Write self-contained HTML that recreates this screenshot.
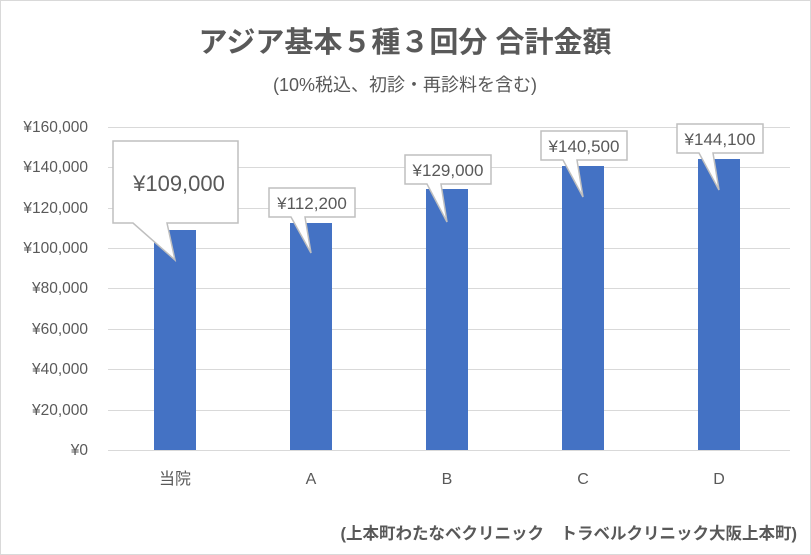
<!DOCTYPE html>
<html><head><meta charset="utf-8"><style>body{margin:0}svg{display:block}</style></head><body>
<svg width="811" height="555" xmlns="http://www.w3.org/2000/svg" font-family="Liberation Sans, Noto Sans CJK JP, sans-serif">
<rect x="0.5" y="0.5" width="810" height="554" fill="#fff" stroke="#d9d9d9"/>
<text x="405" y="52" text-anchor="middle" font-size="29" font-weight="bold" fill="#595959">アジア基本５種３回分 合計金額</text>
<text x="405" y="91" text-anchor="middle" font-size="18" fill="#595959">(10%税込、初診・再診料を含む)</text>
<g stroke="#d9d9d9" stroke-width="1">
<line x1="108" x2="790" y1="127.5" y2="127.5"/><line x1="108" x2="790" y1="167.5" y2="167.5"/>
<line x1="108" x2="790" y1="208.5" y2="208.5"/><line x1="108" x2="790" y1="248.5" y2="248.5"/>
<line x1="108" x2="790" y1="288.5" y2="288.5"/><line x1="108" x2="790" y1="329.5" y2="329.5"/>
<line x1="108" x2="790" y1="369.5" y2="369.5"/><line x1="108" x2="790" y1="410.5" y2="410.5"/>
<line x1="108" x2="790" y1="450.5" y2="450.5"/>
</g>
<g font-size="15.5" fill="#595959" text-anchor="end">
<text x="88" y="132">¥160,000</text><text x="88" y="172">¥140,000</text><text x="88" y="213">¥120,000</text>
<text x="88" y="253">¥100,000</text><text x="88" y="293">¥80,000</text><text x="88" y="334">¥60,000</text>
<text x="88" y="374">¥40,000</text><text x="88" y="415">¥20,000</text><text x="88" y="455">¥0</text>
</g>
<g fill="#4472c4">
<rect x="154" y="230" width="42" height="220"/><rect x="290" y="223" width="42" height="227"/>
<rect x="426" y="189" width="42" height="261"/><rect x="562" y="166" width="42" height="284"/>
<rect x="698" y="159" width="42" height="291"/>
</g>
<g font-size="16" fill="#595959" text-anchor="middle">
<text x="175" y="484">当院</text><text x="311" y="484">A</text><text x="447" y="484">B</text><text x="583" y="484">C</text><text x="719" y="484">D</text>
</g>
<g fill="#fff" stroke="#bfbfbf" stroke-width="1.5">
<path d="M113,141 H238 V223 H167 L175,260 L133,223 H113 Z"/>
<path d="M269,188 H355 V217 H305 L311,253 L291,217 H269 Z"/>
<path d="M405,155 H491 V184 H441 L447,222 L427,184 H405 Z"/>
<path d="M541,131 H627 V160 H577 L583,197 L563,160 H541 Z"/>
<path d="M677,124 H763 V153 H713 L719,190 L699,153 H677 Z"/>
</g>
<g fill="#595959" text-anchor="middle">
<text x="179" y="191" font-size="22">¥109,000</text>
<text x="312" y="209" font-size="17">¥112,200</text>
<text x="448" y="176" font-size="17">¥129,000</text>
<text x="584" y="152" font-size="17">¥140,500</text>
<text x="720" y="145" font-size="17">¥144,100</text>
</g>
<text x="797" y="539" text-anchor="end" font-size="16.5" font-weight="bold" fill="#595959">(上本町わたなベクリニック　トラベルクリニック大阪上本町)</text>
</svg>
</body></html>
